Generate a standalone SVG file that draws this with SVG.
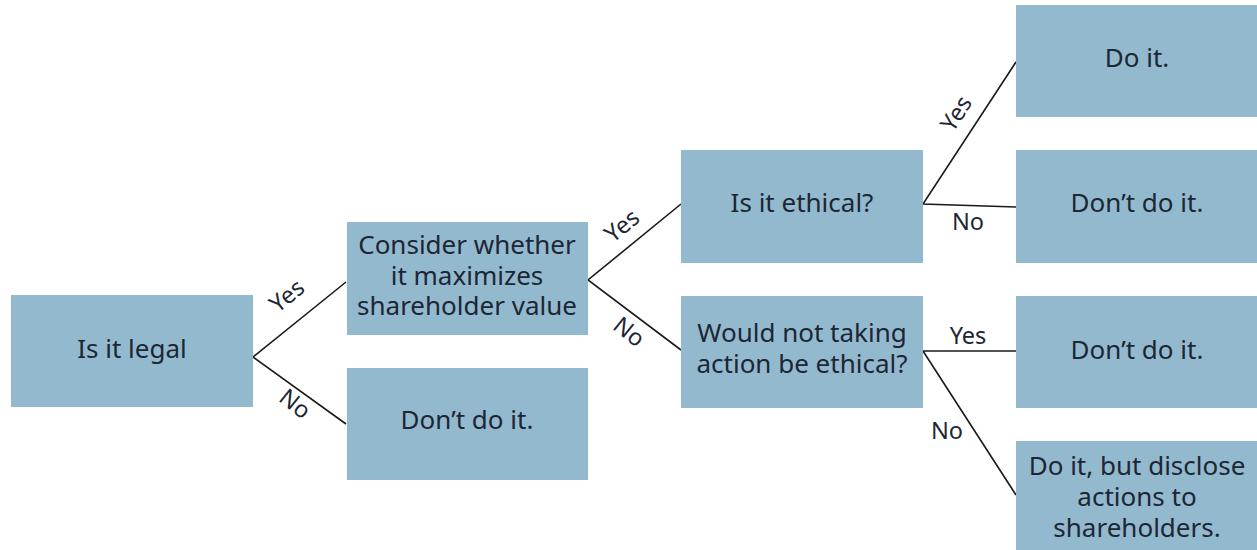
<svg xmlns="http://www.w3.org/2000/svg" width="1257" height="550" viewBox="0 0 1257 550">
<style>
.box{fill:#93b9cf;}
.t{font-family:"Noto Sans","Open Sans",sans-serif;font-size:26px;fill:#1c2733;text-anchor:middle;}
.l{font-family:"Noto Sans","Open Sans",sans-serif;font-size:23.5px;fill:#1c2733;text-anchor:middle;}
.c{stroke:#1a1a1a;stroke-width:1.6;fill:none;}
</style>
<rect width="1257" height="550" fill="#ffffff"/>
<g id="connectors">
<polyline class="c" points="346,282 253,357 346,424"/>
<polyline class="c" points="681,204 588,280 681,350"/>
<polyline class="c" points="1016,62 923,204 1016,207"/>
<polyline class="c" points="1016,351 923,351 1016,495"/>
<text class="l" transform="translate(292,302) rotate(-39)">Yes</text>
<text class="l" transform="translate(290,410) rotate(39)">No</text>
<text class="l" transform="translate(627,232) rotate(-39)">Yes</text>
<text class="l" transform="translate(624,338) rotate(39)">No</text>
<text class="l" transform="translate(963,118) rotate(-57)">Yes</text>
<text class="l" x="968" y="230">No</text>
<text class="l" x="968" y="344">Yes</text>
<text class="l" x="947" y="439">No</text>
</g>
<g id="n1"><rect class="box" x="11" y="295" width="242" height="112"/><text class="t" x="132" y="358">Is it legal</text></g>
<g id="n2"><rect class="box" x="347" y="222" width="241" height="113"/><text class="t" x="467" y="254">Consider whether</text><text class="t" x="467" y="285">it maximizes</text><text class="t" x="467" y="315">shareholder value</text></g>
<g id="n3"><rect class="box" x="347" y="368" width="241" height="112"/><text class="t" x="467" y="429">Don’t do it.</text></g>
<g id="n4"><rect class="box" x="681" y="150" width="242" height="113"/><text class="t" x="802" y="212">Is it ethical?</text></g>
<g id="n5"><rect class="box" x="681" y="296" width="242" height="112"/><text class="t" x="802" y="342">Would not taking</text><text class="t" x="802" y="373">action be ethical?</text></g>
<g id="n6"><rect class="box" x="1016" y="5" width="241" height="112"/><text class="t" x="1137" y="67">Do it.</text></g>
<g id="n7"><rect class="box" x="1016" y="150" width="241" height="113"/><text class="t" x="1137" y="212">Don’t do it.</text></g>
<g id="n8"><rect class="box" x="1016" y="296" width="241" height="112"/><text class="t" x="1137" y="359">Don’t do it.</text></g>
<g id="n9"><rect class="box" x="1016" y="441" width="241" height="109"/><text class="t" x="1137" y="475">Do it, but disclose</text><text class="t" x="1137" y="506">actions to</text><text class="t" x="1137" y="537">shareholders.</text></g>
</svg>
